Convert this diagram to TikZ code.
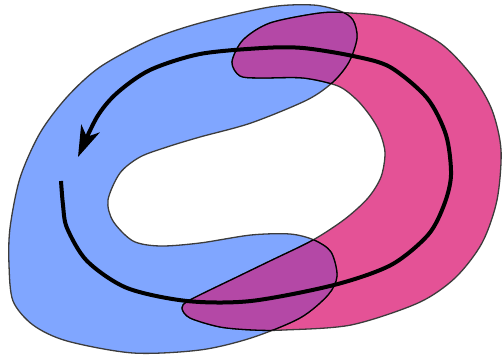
\documentclass[tikz,border=0pt]{standalone}
\usepackage{tikz}
\usetikzlibrary{arrows.meta}
\definecolor{BlobBlue}{RGB}{128,166,255}
\definecolor{BlobPink}{RGB}{228,82,150}
\definecolor{BlobPurple}{RGB}{180,72,166}
\definecolor{EdgeGray}{RGB}{60,60,60}
\newcommand{\bluepath}{plot[smooth cycle] coordinates {(313,5) (270,7) (200,23) (150,40) (100,67) (67,97) (40,133) (20,178) (10,228) (9,265) (13,301) (33,325) (67,341) (133,353) (200,350) (251,338) (300,318) (328,295) (337,276) (331,252) (314,240) (290,234) (251,235) (200,243) (160,246) (133,241) (113,221) (108,200) (120,173) (140,157) (167,147) (200,137) (251,123) (307,100) (333,82) (349,62) (357,38) (353,20) (340,11)}}
\newcommand{\pinkpath}{plot[smooth cycle] coordinates {(232,62) (243,40) (270,23) (320,13) (350,13) (390,18) (440,43) (473,77) (492,110) (501,150) (497,200) (482,243) (455,278) (418,303) (351,325) (284,330) (253,330) (220,327) (190,318) (182,308) (190,300) (237,277) (270,261) (313,240) (345,219) (368,198) (381,177) (385,153) (380,133) (371,117) (357,100) (338,86) (303,78) (260,78) (240,76)}}

\begin{document}
\begin{tikzpicture}[x=1pt,y=-1pt,
    blob edge/.style={draw=EdgeGray,line width=1.3pt},
    cut edge/.style={draw=black,line width=1.3pt},
    loop arrow/.style={line width=4pt,-{Stealth[length=31pt,width=20pt,inset=9pt]}}]
  \useasboundingbox (0,0) rectangle (502,355);
  % the two blobs
  \fill[BlobBlue] \bluepath;
  \fill[BlobPink] \pinkpath;
  \path[blob edge] \bluepath;
  \path[blob edge] \pinkpath;
  % where they overlap
  \begin{scope}
    \clip \bluepath;
    \fill[BlobPurple] \pinkpath;
    \path[cut edge] \pinkpath;
  \end{scope}
  \begin{scope}
    \clip \pinkpath;
    \path[cut edge] \bluepath;
  \end{scope}
  % the loop
  \draw[loop arrow] plot[smooth] coordinates {(61,181) (63,205) (67,228) (87,261) (127,288) (187,301) (251,301) (334,285) (391,265) (428,235) (444,205) (451,175) (446,135) (427,98) (390,67) (353,56) (303,48) (263,48) (200,54) (150,70) (117,93) (97,117) (78,157)};
\end{tikzpicture}
\end{document}
